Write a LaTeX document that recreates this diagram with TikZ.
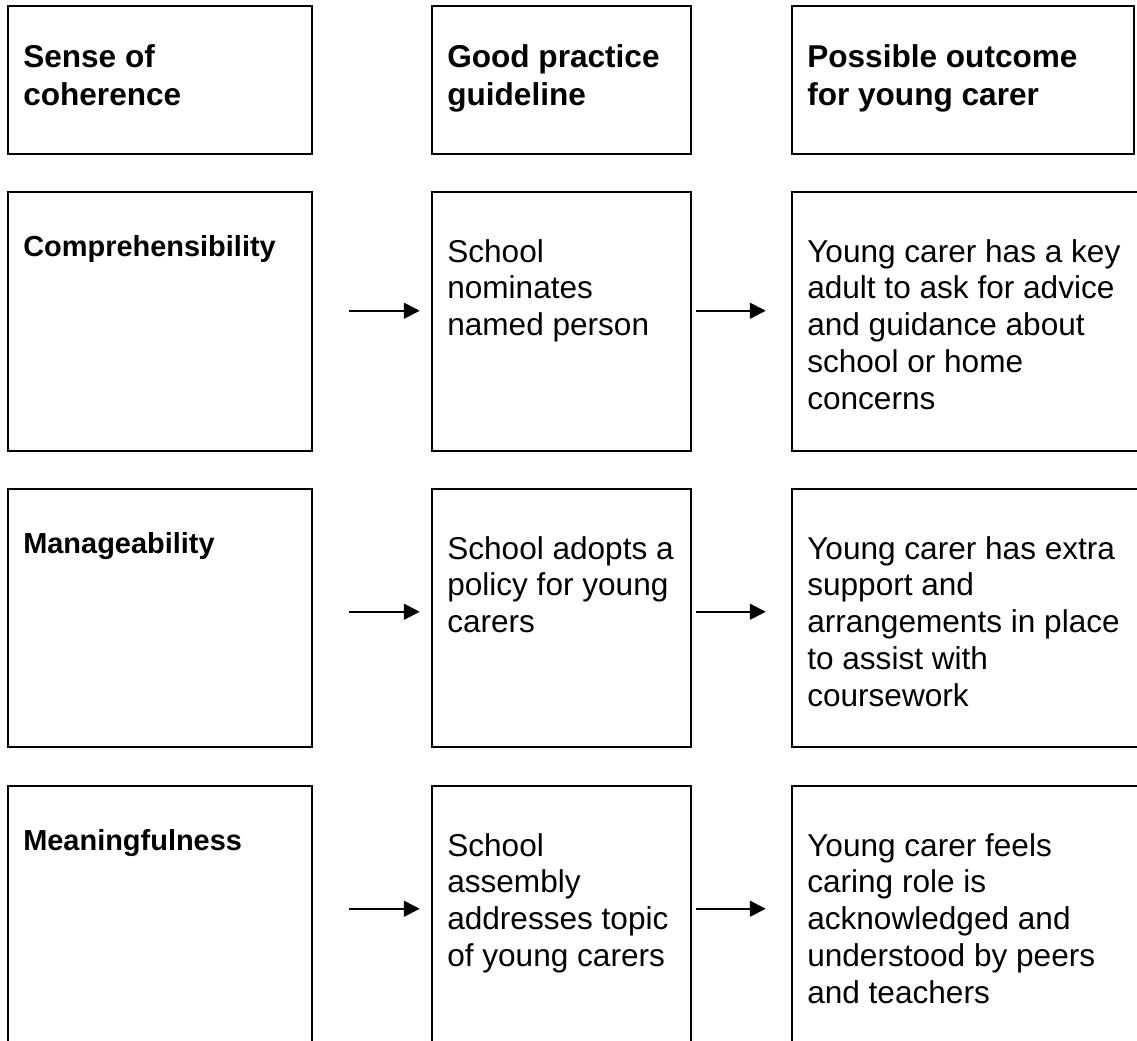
\documentclass[tikz,border=0pt]{standalone}
\usepackage{fontspec}
\setmainfont{Liberation Sans}
\usetikzlibrary{calc,fit,arrows.meta}

\tikzset{
  box/.style={draw=black, line width=0.95pt, inner sep=0pt, fill=none},
  headtxt/.style={anchor=north west, inner sep=0pt, align=left,
    font=\fontsize{12}{14.4}\selectfont\bfseries},
  labeltxt/.style={anchor=north west, inner sep=0pt, align=left,
    font=\fontsize{11}{13.2}\selectfont\bfseries},
  bodytxt/.style={anchor=north west, inner sep=0pt, align=left,
    font=\fontsize{12}{13.95}\selectfont},
  arr/.style={line width=0.65pt, -{Triangle[length=6pt,width=6pt]}}
}

\begin{document}
\begin{tikzpicture}[x=0.38pt, y=-0.38pt]
  \clip (0,0) rectangle (1137,1040);
  \fill[white] (0,0) rectangle (1137,1040);

  % header row
  \node[box, fit={(8,6) (312,154)}] (h1) {};
  \node[box, fit={(432,6) (691,154)}] (h2) {};
  \node[box, fit={(792,6) (1134,154)}] (h3) {};
  \node[headtxt] (th1) at ($(h1.north west)+(16,39)$) {Sense of\\coherence};
  \node[headtxt] (th2) at ($(h2.north west)+(16,39)$) {Good practice\\guideline};
  \node[headtxt] (th3) at ($(h3.north west)+(16,39)$) {Possible outcome\\for young carer};

  % row 1
  \node[box, fit={(8,192) (312,451)}] (b11) {};
  \node[box, fit={(432,192) (691,451)}] (b12) {};
  \node[box, fit={(792,192) (1142,451)}] (b13) {};
  \node[labeltxt] (t11) at ($(b11.north west)+(16,44)$) {Comprehensibility};
  \node[bodytxt] (t12) at ($(b12.north west)+(16,48)$) {School\\nominates\\named person};
  \node[bodytxt] (t13) at ($(b13.north west)+(16,48)$) {Young carer has a key\\adult to ask for advice\\and guidance about\\school or home\\concerns};

  % row 2
  \node[box, fit={(8,489) (312,747)}] (b21) {};
  \node[box, fit={(432,489) (691,747)}] (b22) {};
  \node[box, fit={(792,489) (1142,747)}] (b23) {};
  \node[labeltxt] (t21) at ($(b21.north west)+(16,44)$) {Manageability};
  \node[bodytxt] (t22) at ($(b22.north west)+(16,48)$) {School adopts a\\policy for young\\carers};
  \node[bodytxt] (t23) at ($(b23.north west)+(16,48)$) {Young carer has extra\\support and\\arrangements in place\\to assist with\\coursework};

  % row 3
  \node[box, fit={(8,786) (312,1046)}] (b31) {};
  \node[box, fit={(432,786) (691,1046)}] (b32) {};
  \node[box, fit={(792,786) (1142,1046)}] (b33) {};
  \node[labeltxt] (t31) at ($(b31.north west)+(16,44)$) {Meaningfulness};
  \node[bodytxt] (t32) at ($(b32.north west)+(16,48)$) {School\\assembly\\addresses topic\\of young carers};
  \node[bodytxt] (t33) at ($(b33.north west)+(16,48)$) {Young carer feels\\caring role is\\acknowledged and\\understood by peers\\and teachers};

  % connectors
  \draw[arr] ($(b11.north east)+(36,120)$) -- ($(b12.north west)+(-11,120)$);
  \draw[arr] ($(b12.north east)+(4,120)$) -- ($(b13.north west)+(-25,120)$);
  \draw[arr] ($(b21.north east)+(36,124)$) -- ($(b22.north west)+(-11,124)$);
  \draw[arr] ($(b22.north east)+(4,124)$) -- ($(b23.north west)+(-25,124)$);
  \draw[arr] ($(b31.north east)+(36,124)$) -- ($(b32.north west)+(-11,124)$);
  \draw[arr] ($(b32.north east)+(4,124)$) -- ($(b33.north west)+(-25,124)$);
\end{tikzpicture}
\end{document}
